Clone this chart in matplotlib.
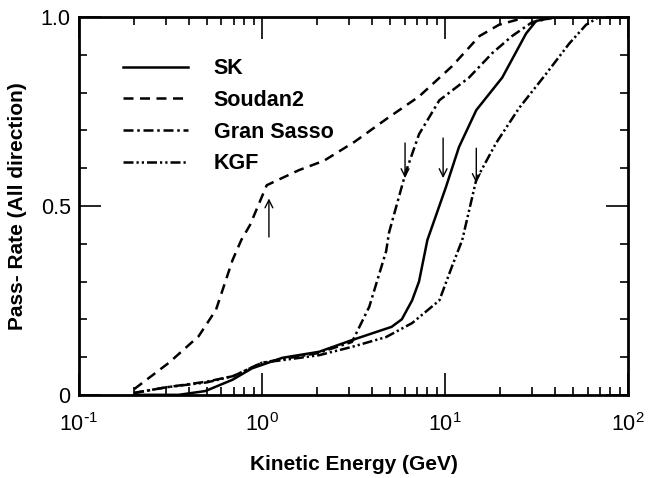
import numpy as np
import matplotlib
matplotlib.use("Agg")
import matplotlib.pyplot as plt
from matplotlib.ticker import LogLocator, FixedLocator, MultipleLocator, NullFormatter

plt.rcParams['font.family'] = ['Liberation Sans', 'DejaVu Sans']
plt.rcParams['mathtext.default'] = 'regular'

# (kinetic energy in GeV, pass rate)
sk_e = [0.2, 0.35, 0.49, 0.69, 0.88, 1.29, 2.05, 3.1, 5.1, 5.8, 6.6, 7.2, 8.0, 10.1, 11.9, 14.8, 20.5, 27.7, 31.4, 40, 100]
sk_y = [0.0, 0.0, 0.01, 0.04, 0.07, 0.098, 0.114, 0.145, 0.18, 0.20, 0.25, 0.30, 0.41, 0.55, 0.656, 0.754, 0.84, 0.957, 0.99, 1.0, 1.0]

soudan_e = [0.2, 0.31, 0.45, 0.56, 0.69, 0.77, 0.86, 1.06, 1.59, 2.18, 3.2, 4.76, 7.2, 10.9, 15.4, 19.7, 27.7, 100]
soudan_y = [0.015, 0.085, 0.155, 0.225, 0.357, 0.41, 0.45, 0.555, 0.595, 0.62, 0.67, 0.73, 0.79, 0.87, 0.95, 0.98, 1.0, 1.0]

gs_e = [0.2, 0.3, 0.5, 0.7, 1.0, 1.3, 2.0, 3.1, 3.85, 4.76, 4.94, 6.1, 7.2, 9.3, 13.5, 18.1, 23.2, 29.9, 40, 100]
gs_y = [0.005, 0.02, 0.035, 0.05, 0.085, 0.095, 0.11, 0.14, 0.233, 0.38, 0.43, 0.59, 0.69, 0.78, 0.84, 0.905, 0.95, 0.987, 1.0, 1.0]

kgf_e = [0.2, 0.3, 0.5, 0.7, 1.0, 1.3, 2.05, 3.1, 4.76, 6.6, 9.3, 10.9, 12.4, 14.8, 19.0, 25.4, 35.6, 47.6, 58.9, 69, 100]
kgf_y = [0.005, 0.02, 0.033, 0.05, 0.085, 0.092, 0.105, 0.127, 0.153, 0.19, 0.25, 0.34, 0.41, 0.57, 0.667, 0.76, 0.85, 0.93, 0.98, 1.0, 1.0]

x_ticks = [0.1, 1, 10, 100]
x_ticklabels = ['$10^{\\text{-}1}$', '$10^{0}$', '$10^{1}$', '$10^{2}$']
y_ticks = [0, 0.5, 1.0]
y_ticklabels = ['0', '0.5', '1.0']

# arrows: (energy, tail y, head y)
arrow_e = [1.09, 6.04, 9.75, 14.8]
arrow_from = [0.418, 0.667, 0.68, 0.653]
arrow_to = [0.52, 0.574, 0.574, 0.561]

fig = plt.figure(figsize=(6.53, 4.78), dpi=100)
ax = fig.add_axes([0.121, 0.174, 0.841, 0.790])

lw = 1.8
ax.plot(sk_e, sk_y, color='black', lw=lw, label='SK')
ax.plot(soudan_e, soudan_y, color='black', lw=lw, dashes=(4, 2.6), label='Soudan2')
ax.plot(gs_e, gs_y, color='black', lw=lw, dashes=(4, 1.5, 1, 1.5), label='Gran Sasso')
ax.plot(kgf_e, kgf_y, color='black', lw=lw, dashes=(4, 1.2, 0.9, 1.2, 0.9, 1.2), label='KGF')

for e, y0, y1 in zip(arrow_e, arrow_from, arrow_to):
    ax.annotate('', xy=(e, y1), xytext=(e, y0),
                arrowprops=dict(arrowstyle='->', color='black', lw=1.0,
                                mutation_scale=14, shrinkA=0, shrinkB=0))

ax.set_xscale('log')
ax.set_xlim(0.1, 100)
ax.set_ylim(0, 1.0)

ax.xaxis.set_major_locator(FixedLocator(x_ticks))
ax.xaxis.set_minor_locator(LogLocator(base=10, subs=np.arange(2, 10), numticks=10))
ax.xaxis.set_minor_formatter(NullFormatter())
ax.set_xticklabels(x_ticklabels)
ax.yaxis.set_major_locator(FixedLocator(y_ticks))
ax.yaxis.set_minor_locator(MultipleLocator(0.1))
ax.set_yticklabels(y_ticklabels)

ax.tick_params(which='both', direction='in', top=True, right=True, width=1.2, labelsize=15.5)
ax.tick_params(which='major', length=16)
ax.tick_params(which='minor', length=6)
ax.tick_params(axis='x', which='major', pad=13)
ax.tick_params(axis='y', which='major', pad=6)
for s in ax.spines.values():
    s.set_linewidth(2.0)

ax.set_xlabel('Kinetic Energy (GeV)', fontsize=15, fontweight='bold', labelpad=14)
ax.set_ylabel('Pass- Rate (All direction)', fontsize=15, fontweight='bold', labelpad=10)

leg = ax.legend(loc='upper left', bbox_to_anchor=(0.045, 0.943), frameon=False,
                handlelength=3.0, handletextpad=1.2, labelspacing=0.5,
                prop={'size': 15.5, 'weight': 'bold'})

fig.savefig('out.png', dpi=100)
